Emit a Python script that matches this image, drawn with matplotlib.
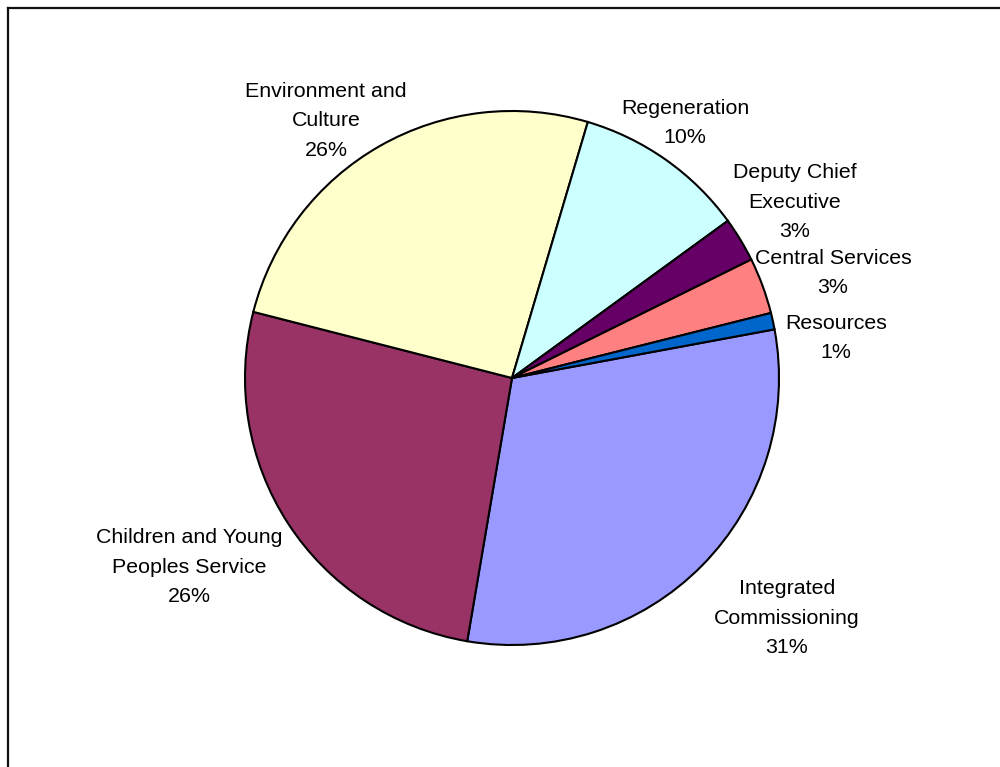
import matplotlib.pyplot as plt
from matplotlib.lines import Line2D

# budget share by directorate, clockwise from the first slice
names = ["Integrated\nCommissioning", "Children and Young\nPeoples Service",
         "Environment and\nCulture", "Regeneration", "Deputy Chief\nExecutive",
         "Central Services", "Resources"]
shares = [30.6, 26.3, 25.6, 10.4, 2.7, 3.4, 1.0]
colours = ["#9999FF", "#993366", "#FFFFCC", "#CCFFFF", "#660066", "#FF8080", "#0066CC"]

# where each label sits (pie radius = 1)
label_xy = [(1.030, -0.899), (-1.210, -0.708), (-0.697, 0.963), (0.648, 0.955),
            (1.060, 0.659), (1.202, 0.393), (1.213, 0.150)]

plt.rcParams["font.family"] = ["Liberation Sans", "DejaVu Sans"]

fig = plt.figure(figsize=(10, 7.67), dpi=100)
ax = fig.add_axes([0, 0, 1, 1])

R = 267.0
cx, cy = 512.0, 378.0

ax.pie(shares, colors=colours, startangle=10.5, counterclock=False,
       radius=1.0, center=(0, 0), frame=True,
       wedgeprops=dict(edgecolor="black", linewidth=1.5))
ax.set_xlim(-cx / R, (1000 - cx) / R)
ax.set_ylim(-(767 - cy) / R, cy / R)
ax.axis("off")

total = sum(shares)
for name, v, (x, y) in zip(names, shares, label_xy):
    ax.text(x, y, "{}\n{:.0f}%".format(name, v / total * 100),
            ha="center", va="center", multialignment="center",
            fontsize=15.4, linespacing=1.72, color="black")

# chart area border
x0, y0 = 7.5 / 1000, 1 - 7.5 / 767
fig.add_artist(Line2D([x0, 1.0], [y0, y0], color="#111111", lw=1.6,
                      transform=fig.transFigure))
fig.add_artist(Line2D([x0, x0], [y0, 0.0], color="#111111", lw=1.6,
                      transform=fig.transFigure))

fig.savefig("out.png", dpi=100)
